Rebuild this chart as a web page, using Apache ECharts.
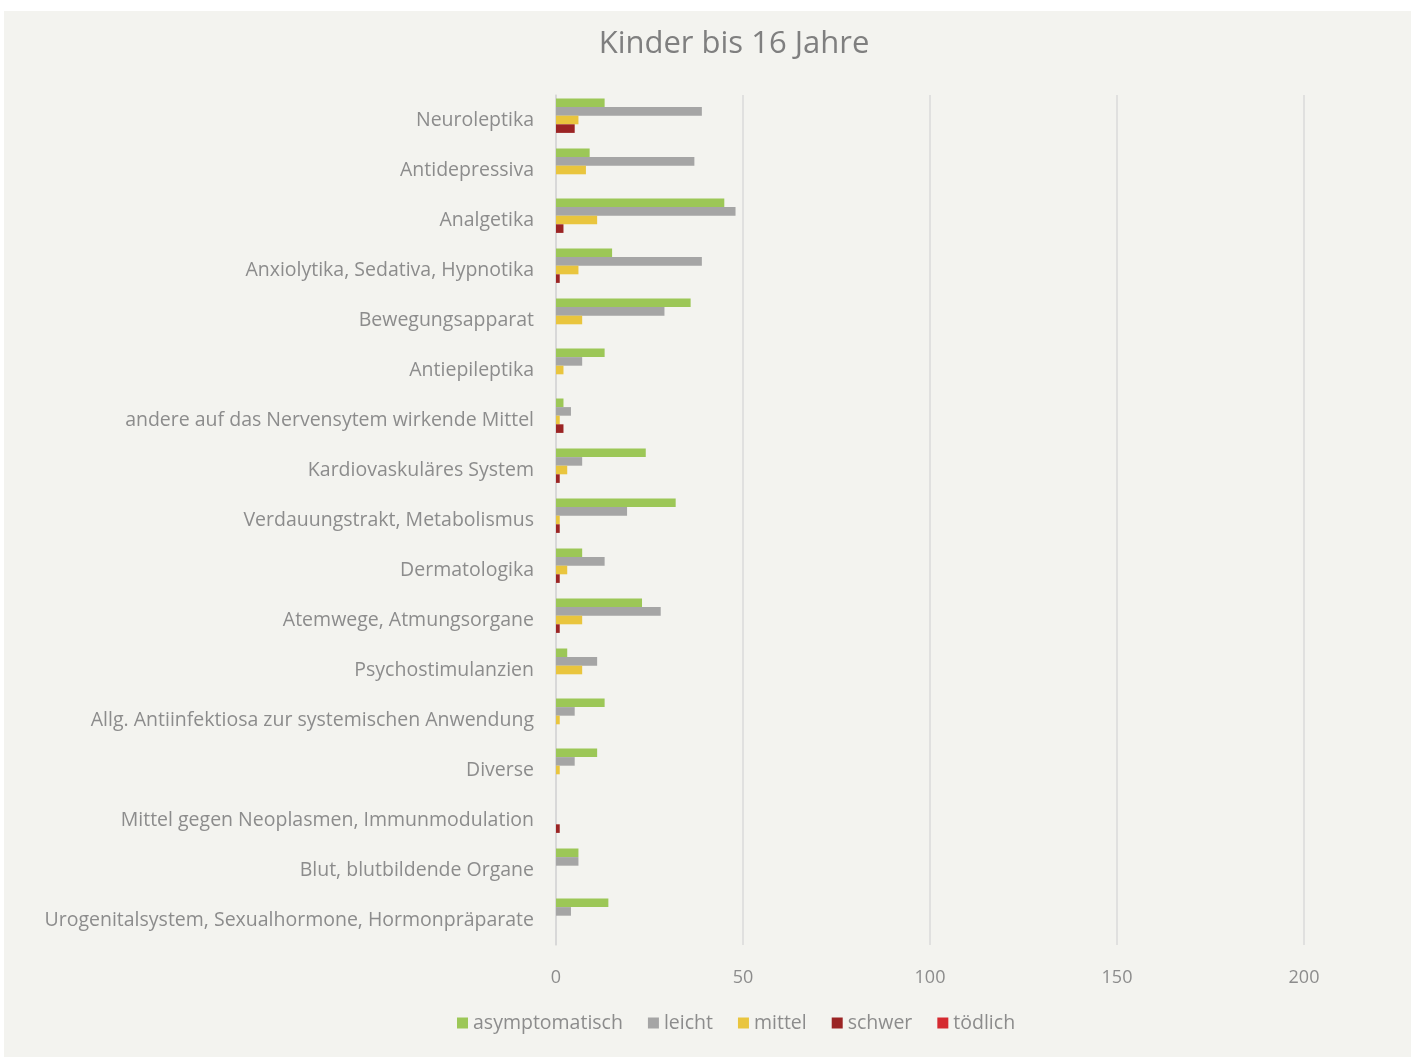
<!DOCTYPE html>
<html>
<head>
<meta charset="utf-8">
<title>Kinder bis 16 Jahre</title>
<script src="https://cdn.jsdelivr.net/npm/echarts@6/dist/echarts.min.js"></script>
<style>
  html, body { margin: 0; padding: 0; background: #ffffff; }
  #chart { width: 1416px; height: 1057px; }
</style>
</head>
<body>
<div id="chart"></div>
<script>
// Wirkstoffgruppen (von oben nach unten)
const categories = [
  'Neuroleptika',
  'Antidepressiva',
  'Analgetika',
  'Anxiolytika, Sedativa, Hypnotika',
  'Bewegungsapparat',
  'Antiepileptika',
  'andere auf das Nervensytem wirkende Mittel',
  'Kardiovaskuläres System',
  'Verdauungstrakt, Metabolismus',
  'Dermatologika',
  'Atemwege, Atmungsorgane',
  'Psychostimulanzien',
  'Allg. Antiinfektiosa zur systemischen Anwendung',
  'Diverse',
  'Mittel gegen Neoplasmen, Immunmodulation',
  'Blut, blutbildende Organe',
  'Urogenitalsystem, Sexualhormone, Hormonpräparate'
];

// Fallzahlen nach Schweregrad
const asymptomatisch = [13, 9, 45, 15, 36, 13, 2, 24, 32, 7, 23, 3, 13, 11, 0, 6, 14];
const leicht         = [39, 37, 48, 39, 29, 7, 4, 7, 19, 13, 28, 11, 5, 5, 0, 6, 4];
const mittel         = [6, 8, 11, 6, 7, 2, 1, 3, 1, 3, 7, 7, 1, 1, 0, 0, 0];
const schwer         = [5, 0, 2, 1, 0, 0, 2, 1, 1, 1, 1, 0, 0, 0, 1, 0, 0];
const toedlich       = [0, 0, 0, 0, 0, 0, 0, 0, 0, 0, 0, 0, 0, 0, 0, 0, 0];

const xTicks = { min: 0, max: 200, interval: 50 };

const seriesDefs = [
  { name: 'asymptomatisch', data: asymptomatisch, color: '#9cc757' },
  { name: 'leicht',         data: leicht,         color: '#a5a5a5' },
  { name: 'mittel',         data: mittel,         color: '#e9c53e' },
  { name: 'schwer',         data: schwer,         color: '#9b2424' },
  { name: 'tödlich',        data: toedlich,       color: '#d52a30' }
];

const textColor = '#8c8c8c';
const fontFamily = '"Open Sans", Lato, sans-serif';

const chart = echarts.init(document.getElementById('chart'), null, { renderer: 'canvas' });

chart.setOption({
  backgroundColor: '#ffffff',
  animation: false,
  textStyle: { fontFamily: fontFamily },
  graphic: [{
    type: 'rect',
    z: -10,
    silent: true,
    shape: { x: 4, y: 11, width: 1407, height: 1046 },
    style: { fill: '#f3f3ef' }
  }],
  title: {
    text: 'Kinder bis 16 Jahre',
    left: 729,
    top: 24,
    textAlign: 'center',
    textStyle: { color: '#7f7f7f', fontSize: 31, fontWeight: 'normal', fontFamily: fontFamily }
  },
  legend: {
    bottom: 19,
    left: 452,
    itemWidth: 11,
    itemHeight: 11,
    itemGap: 25,
    icon: 'rect',
    textStyle: { color: textColor, fontSize: 19.5, fontFamily: fontFamily },
    data: seriesDefs.map(s => s.name)
  },
  grid: { left: 556, top: 95, width: 748, height: 850, containLabel: false },
  xAxis: {
    type: 'value',
    min: xTicks.min,
    max: xTicks.max,
    interval: xTicks.interval,
    axisLine: { show: false },
    axisTick: { show: false },
    axisLabel: { color: textColor, fontSize: 18, margin: 24, fontFamily: fontFamily },
    splitLine: { show: true, lineStyle: { color: '#dadada', width: 1.5 } }
  },
  yAxis: {
    type: 'category',
    inverse: true,
    data: categories,
    axisLine: { show: true, lineStyle: { color: '#d6d6d6', width: 1.5 } },
    axisTick: { show: false },
    axisLabel: { color: textColor, fontSize: 19.5, margin: 22, fontFamily: fontFamily }
  },
  series: seriesDefs.map(s => ({
    name: s.name,
    type: 'bar',
    data: s.data,
    barGap: '0%',
    barCategoryGap: '14%',
    itemStyle: { color: s.color },
    emphasis: { disabled: true }
  }))
});
</script>
</body>
</html>
